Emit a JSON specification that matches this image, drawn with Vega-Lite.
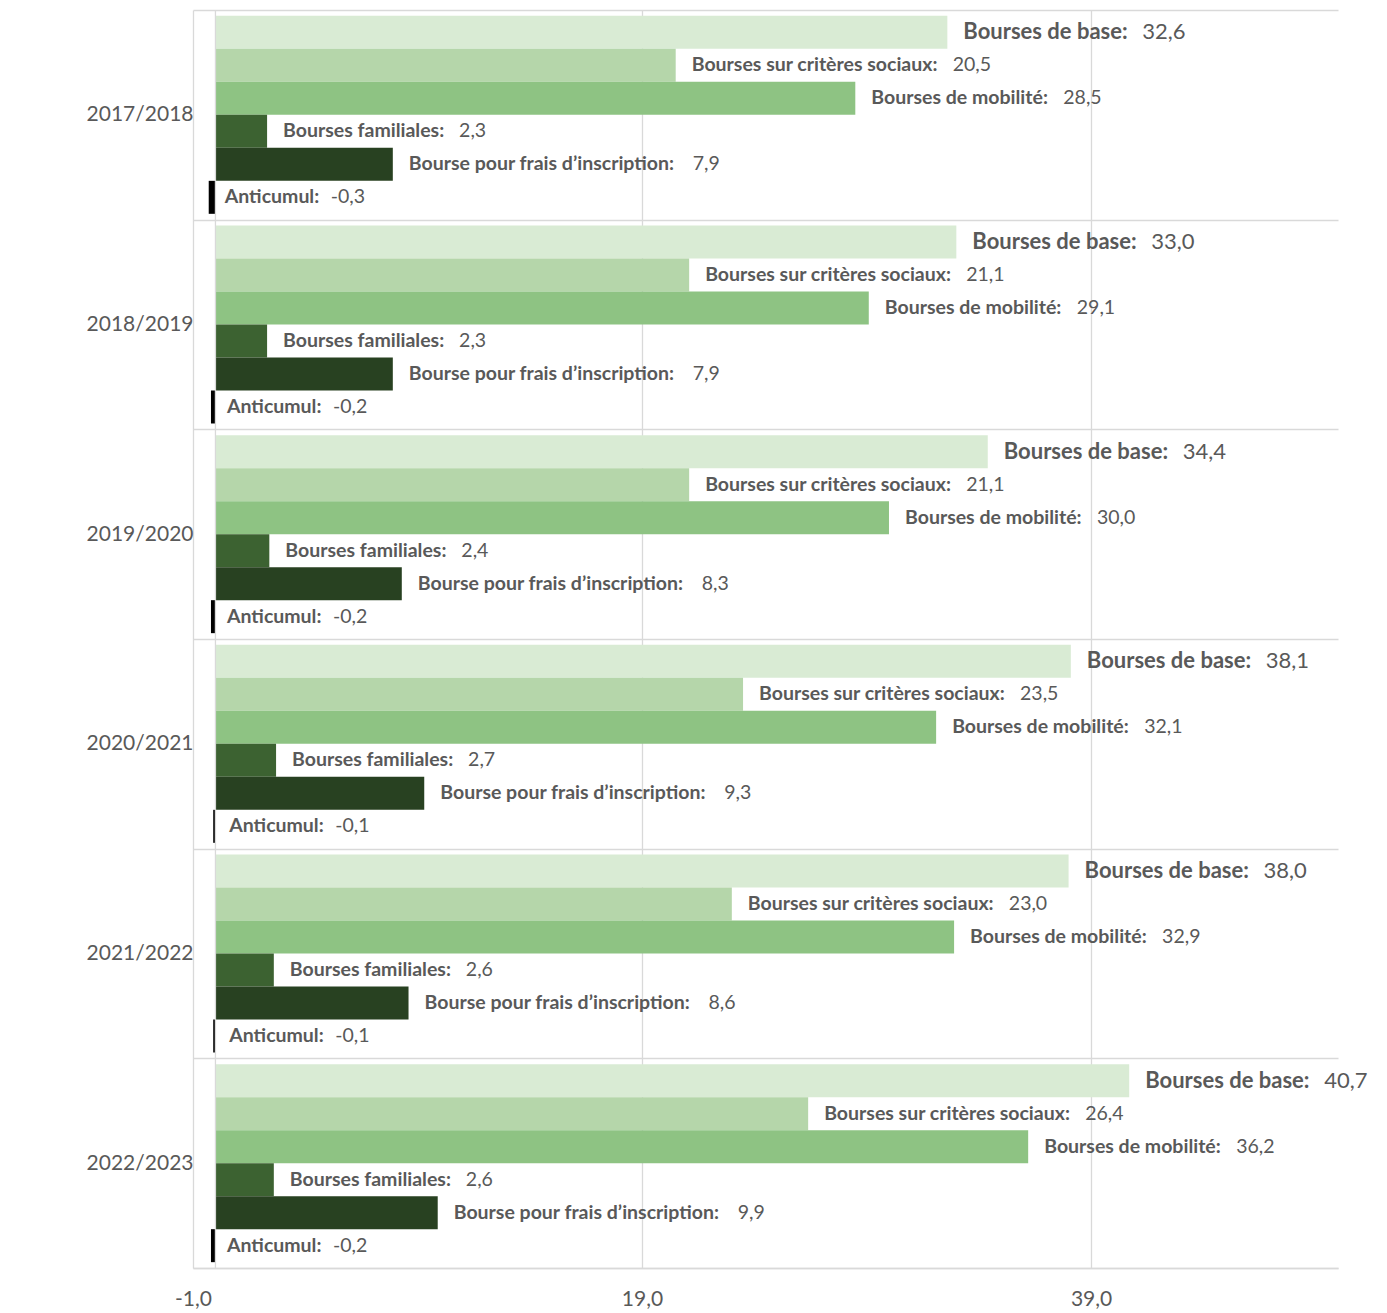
{
  "$schema": "https://vega.github.io/schema/vega-lite/v6.json",
  "width": 1145,
  "height": 1258,
  "autosize": {"type": "none"},
  "padding": {"left": 193, "top": 10, "right": 49, "bottom": 45},
  "config": {
    "font": "Lato",
    "view": {"stroke": null},
    "locale": {"number": {"decimal": ",", "thousands": " ", "grouping": [3], "currency": ["", " €"], "minus": "-"}}
  },
  "data": {"values": [
    {"year": "2017/2018", "series": "Bourses de base", "value": 32.6},
    {"year": "2017/2018", "series": "Bourses sur critères sociaux", "value": 20.5},
    {"year": "2017/2018", "series": "Bourses de mobilité", "value": 28.5},
    {"year": "2017/2018", "series": "Bourses familiales", "value": 2.3},
    {"year": "2017/2018", "series": "Bourse pour frais d’inscription", "value": 7.9},
    {"year": "2017/2018", "series": "Anticumul", "value": -0.3},
    {"year": "2018/2019", "series": "Bourses de base", "value": 33.0},
    {"year": "2018/2019", "series": "Bourses sur critères sociaux", "value": 21.1},
    {"year": "2018/2019", "series": "Bourses de mobilité", "value": 29.1},
    {"year": "2018/2019", "series": "Bourses familiales", "value": 2.3},
    {"year": "2018/2019", "series": "Bourse pour frais d’inscription", "value": 7.9},
    {"year": "2018/2019", "series": "Anticumul", "value": -0.2},
    {"year": "2019/2020", "series": "Bourses de base", "value": 34.4},
    {"year": "2019/2020", "series": "Bourses sur critères sociaux", "value": 21.1},
    {"year": "2019/2020", "series": "Bourses de mobilité", "value": 30.0},
    {"year": "2019/2020", "series": "Bourses familiales", "value": 2.4},
    {"year": "2019/2020", "series": "Bourse pour frais d’inscription", "value": 8.3},
    {"year": "2019/2020", "series": "Anticumul", "value": -0.2},
    {"year": "2020/2021", "series": "Bourses de base", "value": 38.1},
    {"year": "2020/2021", "series": "Bourses sur critères sociaux", "value": 23.5},
    {"year": "2020/2021", "series": "Bourses de mobilité", "value": 32.1},
    {"year": "2020/2021", "series": "Bourses familiales", "value": 2.7},
    {"year": "2020/2021", "series": "Bourse pour frais d’inscription", "value": 9.3},
    {"year": "2020/2021", "series": "Anticumul", "value": -0.1},
    {"year": "2021/2022", "series": "Bourses de base", "value": 38.0},
    {"year": "2021/2022", "series": "Bourses sur critères sociaux", "value": 23.0},
    {"year": "2021/2022", "series": "Bourses de mobilité", "value": 32.9},
    {"year": "2021/2022", "series": "Bourses familiales", "value": 2.6},
    {"year": "2021/2022", "series": "Bourse pour frais d’inscription", "value": 8.6},
    {"year": "2021/2022", "series": "Anticumul", "value": -0.1},
    {"year": "2022/2023", "series": "Bourses de base", "value": 40.7},
    {"year": "2022/2023", "series": "Bourses sur critères sociaux", "value": 26.4},
    {"year": "2022/2023", "series": "Bourses de mobilité", "value": 36.2},
    {"year": "2022/2023", "series": "Bourses familiales", "value": 2.6},
    {"year": "2022/2023", "series": "Bourse pour frais d’inscription", "value": 9.9},
    {"year": "2022/2023", "series": "Anticumul", "value": -0.2}
  ]},
  "layer": [
    {
      "mark": {"type": "bar"},
      "encoding": {
        "y": {"field": "year", "type": "nominal", "sort": null, "title": null,
          "scale": {"paddingInner": 0, "paddingOuter": 0},
          "axis": {"grid": true, "gridColor": "#d9d9d9", "gridWidth": 1.3, "tickBand": "extent", "ticks": false, "domain": false,
            "labelColor": "#595959", "labelFontSize": 21, "labelPadding": 0, "labelFont": "Lato"}},
        "yOffset": {"field": "series", "type": "nominal",
          "sort": ["Bourses de base", "Bourses sur critères sociaux", "Bourses de mobilité", "Bourses familiales", "Bourse pour frais d’inscription", "Anticumul"],
          "scale": {"paddingInner": 0, "paddingOuter": 0.177}},
        "x": {"field": "value", "type": "quantitative", "title": null,
          "scale": {"domain": [-1, 50], "nice": false, "zero": false},
          "axis": {"values": [-1, 19, 39], "format": ".1f", "grid": true, "gridColor": "#d9d9d9", "gridWidth": 1.3, "ticks": false,
            "domain": true, "domainColor": "#d9d9d9", "domainWidth": 1.3, "labelFlush": false, "labelOverlap": false,
            "labelColor": "#595959", "labelFontSize": 21, "labelPadding": 20}},
        "color": {"field": "series", "type": "nominal", "legend": null,
          "scale": {"domain": ["Bourses de base", "Bourses sur critères sociaux", "Bourses de mobilité", "Bourses familiales", "Bourse pour frais d’inscription", "Anticumul"],
            "range": ["#d9ebd4", "#b5d6aa", "#8ec383", "#3c6231", "#284121", "#000000"]}}
      }
    },
    {
      "data": {"values": [{"v": 0}]},
      "mark": {"type": "rule", "color": "#d9d9d9", "strokeWidth": 1.3},
      "encoding": {"x": {"field": "v", "type": "quantitative"}}
    },
    {
      "transform": [{"calculate": "datum.series + ':'", "as": "label"}],
      "mark": {"type": "text", "align": "left", "baseline": "middle", "dx": 16, "fontWeight": "bold", "color": "#595959"},
      "encoding": {
        "y": {"field": "year", "type": "nominal", "sort": null},
        "yOffset": {"field": "series", "type": "nominal",
          "sort": ["Bourses de base", "Bourses sur critères sociaux", "Bourses de mobilité", "Bourses familiales", "Bourse pour frais d’inscription", "Anticumul"]},
        "x": {"field": "value", "type": "quantitative"},
        "text": {"field": "label"},
        "size": {"condition": {"test": "datum.series == 'Bourses de base'", "value": 22}, "value": 19.5}
      }
    },
    {
      "mark": {"type": "text", "align": "left", "baseline": "middle", "color": "#595959",
        "dx": {"expr": "datum.series == 'Bourses de base' ? 195 : datum.series == 'Bourses sur critères sociaux' ? 277 : datum.series == 'Bourses de mobilité' ? 208 : datum.series == 'Bourses familiales' ? 192 : datum.series == 'Anticumul' ? 122 : 300"}},
      "encoding": {
        "y": {"field": "year", "type": "nominal", "sort": null},
        "yOffset": {"field": "series", "type": "nominal",
          "sort": ["Bourses de base", "Bourses sur critères sociaux", "Bourses de mobilité", "Bourses familiales", "Bourse pour frais d’inscription", "Anticumul"]},
        "x": {"field": "value", "type": "quantitative"},
        "text": {"field": "value", "type": "quantitative", "format": ".1f"},
        "size": {"condition": {"test": "datum.series == 'Bourses de base'", "value": 22}, "value": 19.5}
      }
    }
  ]
}
